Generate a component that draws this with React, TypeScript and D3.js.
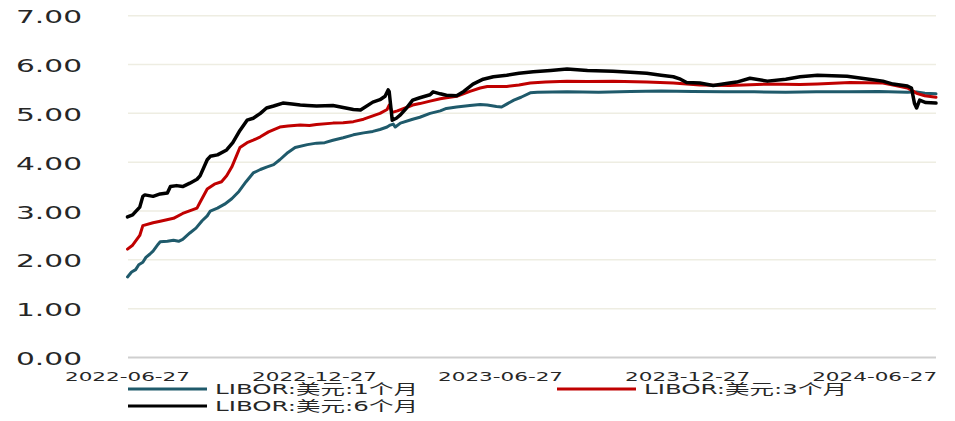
import React from "react";
import * as d3 from "d3";

const xTickLabels = ["2022-06-27", "2022-12-27", "2023-06-27", "2023-12-27", "2024-06-27"];
const yTickValues = [0, 1, 2, 3, 4, 5, 6, 7];
const seriesNames = ["LIBOR:美元:1个月", "LIBOR:美元:3个月", "LIBOR:美元:6个月"];
const seriesColors = ["#1F5A6B", "#C00000", "#000000"];

const dates1M = [
  "2022-06-27","2022-07-01","2022-07-05","2022-07-08","2022-07-12","2022-07-15","2022-07-19","2022-07-22","2022-07-27","2022-07-29",
  "2022-08-05","2022-08-11","2022-08-16","2022-08-20","2022-08-27","2022-09-02","2022-09-08","2022-09-13","2022-09-16","2022-09-23",
  "2022-09-30","2022-10-07","2022-10-14","2022-10-21","2022-10-28","2022-11-04","2022-11-10","2022-11-17","2022-11-23","2022-12-01",
  "2022-12-08","2022-12-20","2022-12-29","2023-01-06","2023-01-14","2023-01-24","2023-02-03","2023-02-13","2023-02-22","2023-03-01",
  "2023-03-08","2023-03-11","2023-03-14","2023-03-16","2023-03-21","2023-04-02","2023-04-09","2023-04-19","2023-04-29","2023-05-05",
  "2023-05-15","2023-05-28","2023-06-07","2023-06-14","2023-06-23","2023-06-28","2023-07-03","2023-07-10","2023-07-17","2023-07-26",
  "2023-08-02","2023-08-31","2023-10-01","2023-11-01","2023-12-01","2024-01-01","2024-02-01","2024-03-01","2024-04-01","2024-05-01",
  "2024-06-01","2024-07-01","2024-07-29","2024-08-07","2024-08-15","2024-08-26"
];
const values1M = [
  1.65,1.75,1.80,1.90,1.95,2.05,2.12,2.18,2.32,2.37,
  2.38,2.40,2.38,2.42,2.55,2.65,2.80,2.90,3.00,3.06,
  3.14,3.25,3.40,3.60,3.78,3.85,3.90,3.95,4.05,4.20,
  4.30,4.36,4.39,4.40,4.45,4.50,4.56,4.60,4.63,4.67,
  4.72,4.76,4.78,4.72,4.80,4.88,4.92,5.00,5.05,5.10,
  5.13,5.16,5.18,5.17,5.14,5.13,5.19,5.27,5.33,5.42,
  5.43,5.44,5.43,5.45,5.46,5.45,5.44,5.44,5.43,5.44,
  5.44,5.45,5.43,5.44,5.41,5.40
];

const dates3M = [
  "2022-06-27","2022-07-02","2022-07-09","2022-07-12","2022-07-22","2022-07-29","2022-08-11","2022-08-20","2022-09-03","2022-09-06",
  "2022-09-13","2022-09-20","2022-09-27","2022-10-02","2022-10-07","2022-10-12","2022-10-15","2022-10-22","2022-10-28","2022-11-04",
  "2022-11-12","2022-11-23","2022-12-01","2022-12-13","2022-12-22","2022-12-29","2023-01-14","2023-01-24","2023-02-03","2023-02-13",
  "2023-02-22","2023-03-01","2023-03-08","2023-03-10","2023-03-13","2023-03-18","2023-03-27","2023-04-02","2023-04-09","2023-04-19",
  "2023-04-29","2023-05-05","2023-05-15","2023-05-28","2023-06-07","2023-06-14","2023-06-23","2023-07-03","2023-07-15","2023-07-26",
  "2023-08-10","2023-08-31","2023-09-20","2023-10-15","2023-11-17","2023-12-13","2024-01-08","2024-02-06","2024-03-14","2024-04-15",
  "2024-05-02","2024-06-03","2024-07-05","2024-07-15","2024-07-29","2024-08-04","2024-08-07","2024-08-15","2024-08-26"
];
const values3M = [
  2.22,2.30,2.50,2.70,2.76,2.79,2.85,2.95,3.06,3.18,
  3.45,3.55,3.60,3.72,3.90,4.15,4.30,4.40,4.45,4.52,
  4.62,4.72,4.74,4.76,4.75,4.77,4.80,4.81,4.83,4.88,
  4.95,5.00,5.08,5.17,5.02,5.05,5.12,5.17,5.20,5.25,
  5.30,5.32,5.35,5.45,5.52,5.55,5.55,5.55,5.58,5.62,
  5.64,5.66,5.65,5.66,5.64,5.62,5.58,5.57,5.60,5.59,
  5.60,5.63,5.62,5.58,5.52,5.45,5.41,5.36,5.33
];

const dates6M = [
  "2022-06-27","2022-07-02","2022-07-09","2022-07-12","2022-07-14","2022-07-22","2022-07-29","2022-08-05","2022-08-08","2022-08-14",
  "2022-08-20","2022-08-27","2022-09-03","2022-09-06","2022-09-13","2022-09-16","2022-09-23","2022-10-02","2022-10-08","2022-10-15",
  "2022-10-22","2022-10-28","2022-11-04","2022-11-10","2022-11-17","2022-11-26","2022-12-05","2022-12-13","2022-12-20","2022-12-29",
  "2023-01-14","2023-01-24","2023-02-03","2023-02-10","2023-02-22","2023-03-01","2023-03-06","2023-03-09","2023-03-10","2023-03-13",
  "2023-03-17","2023-03-21","2023-03-27","2023-04-02","2023-04-09","2023-04-19","2023-04-22","2023-04-29","2023-05-05","2023-05-15",
  "2023-05-22","2023-05-31","2023-06-10","2023-06-20","2023-07-03","2023-07-15","2023-07-29","2023-08-15","2023-08-31","2023-09-20",
  "2023-10-15","2023-11-01","2023-11-17","2023-12-01","2023-12-13","2023-12-20","2023-12-26","2024-01-08","2024-01-21","2024-02-06",
  "2024-02-13","2024-02-26","2024-03-14","2024-04-01","2024-04-15","2024-05-02","2024-05-31","2024-06-25","2024-07-05","2024-07-15",
  "2024-07-29","2024-08-02","2024-08-05","2024-08-07","2024-08-10","2024-08-16","2024-08-26"
];
const values6M = [
  2.88,2.92,3.08,3.30,3.33,3.30,3.35,3.37,3.50,3.52,
  3.50,3.57,3.65,3.72,4.05,4.12,4.15,4.25,4.40,4.65,
  4.86,4.90,5.00,5.11,5.15,5.21,5.19,5.17,5.16,5.15,
  5.16,5.12,5.08,5.07,5.23,5.28,5.35,5.48,5.45,4.86,
  4.90,4.97,5.11,5.27,5.32,5.38,5.44,5.40,5.37,5.36,
  5.45,5.60,5.70,5.75,5.78,5.82,5.85,5.88,5.91,5.88,
  5.86,5.84,5.82,5.78,5.75,5.70,5.63,5.62,5.57,5.62,
  5.64,5.72,5.66,5.70,5.75,5.78,5.76,5.69,5.66,5.60,
  5.56,5.52,5.20,5.11,5.27,5.22,5.21
];

const parse = d3.timeParse("%Y-%m-%d");
const FONT = "'DejaVu Sans', 'Noto Sans CJK SC', sans-serif";

export default function App() {
  const W = 955, H = 421;
  const x = d3.scaleTime()
    .domain([parse("2022-06-27") as Date, parse("2024-08-26") as Date])
    .range([127.5, 936]);
  const y = d3.scaleLinear().domain([0, 7]).range([357.5, 15.7]);

  const series = [
    { dates: dates1M, values: values1M },
    { dates: dates3M, values: values3M },
    { dates: dates6M, values: values6M },
  ];
  const line = d3.line<[Date, number]>()
    .x((d) => x(d[0]))
    .y((d) => y(d[1]));

  const legendItems = [
    { idx: 0, lx: 128, ly: 389 },
    { idx: 1, lx: 557, ly: 389 },
    { idx: 2, lx: 128, ly: 406 },
  ];

  return (
    <svg width={W} height={H} style={{ position: "absolute", left: 0, top: 0, background: "#fff" }}>
      {yTickValues.filter((v) => v > 0).map((v) => (
        <line key={v} x1={128} x2={936} y1={y(v)} y2={y(v)} stroke="#EEEDE2" strokeWidth={1.5} />
      ))}
      <line x1={128} x2={936} y1={y(0)} y2={y(0)} stroke="#CFCFCF" strokeWidth={2} />
      {yTickValues.map((v) => (
        <text key={v} x={16} y={y(v) + 1} fontSize={18} fontFamily={FONT} fill="#262626"
          dominantBaseline="central" textLength={66} lengthAdjust="spacingAndGlyphs">
          {v.toFixed(2)}
        </text>
      ))}
      {xTickLabels.map((t) => (
        <text key={t} x={x(parse(t) as Date) - 62.5} y={376.5} fontSize={13} fontFamily={FONT} fill="#262626"
          dominantBaseline="central" textLength={125} lengthAdjust="spacingAndGlyphs">
          {t}
        </text>
      ))}
      {series.map((s, i) => {
        const pts: [Date, number][] = s.dates.map((d, j) => [parse(d) as Date, s.values[j]]);
        return (
          <path key={i} d={line(pts) || ""} fill="none" stroke={seriesColors[i]}
            strokeWidth={i === 2 ? 3.5 : 3} strokeLinejoin="round" strokeLinecap="round" />
        );
      })}
      {legendItems.map((it) => (
        <g key={it.idx}>
          <line x1={it.lx} x2={it.lx + 79} y1={it.ly} y2={it.ly} stroke={seriesColors[it.idx]} strokeWidth={3} />
          <text x={it.lx + 87} y={it.ly} fontSize={14} fontFamily={FONT} fill="#262626"
            dominantBaseline="central" textLength={203} lengthAdjust="spacingAndGlyphs">
            {seriesNames[it.idx]}
          </text>
        </g>
      ))}
    </svg>
  );
}
